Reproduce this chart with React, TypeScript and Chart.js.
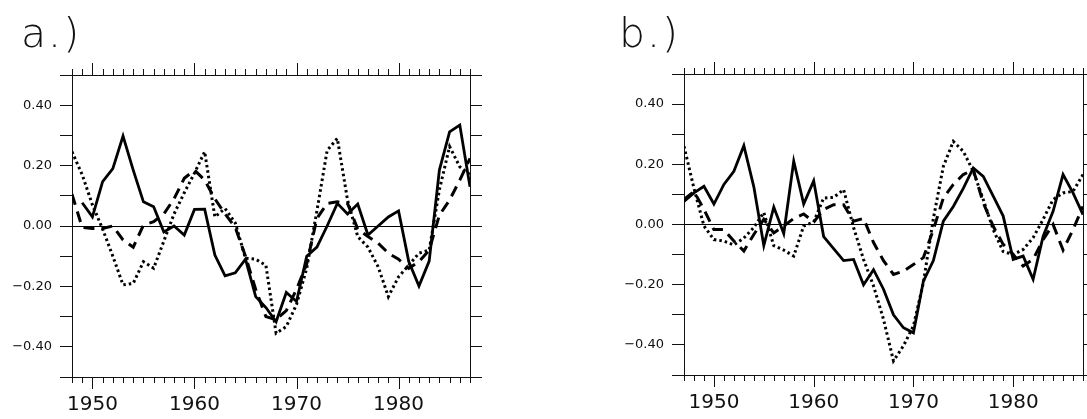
import React, { useEffect, useRef } from 'react';
import { Chart, registerables } from 'chart.js';

Chart.register(...registerables);

// ---------- data ----------
const yearsA = [1948, 1949, 1950, 1951, 1952, 1953, 1954, 1955, 1956, 1957, 1958, 1959, 1960, 1961, 1962, 1963, 1964, 1965, 1966, 1967, 1968, 1969, 1970, 1971, 1972, 1973, 1974, 1975, 1976, 1977, 1978, 1979, 1980, 1981, 1982, 1983, 1984, 1985, 1986, 1987];
const solidA = [null, 0.077, 0.03, 0.147, 0.19, 0.298, 0.185, 0.08, 0.064, -0.02, 0.0, -0.03, 0.055, 0.056, -0.096, -0.165, -0.155, -0.11, -0.234, -0.27, -0.317, -0.22, -0.25, -0.1, -0.07, 0.0, 0.075, 0.04, 0.073, -0.03, 0.0, 0.03, 0.05, -0.118, -0.199, -0.116, 0.185, 0.312, 0.334, 0.13];
const dottedA = [0.246, 0.17, 0.07, -0.01, -0.1, -0.195, -0.19, -0.118, -0.14, -0.05, 0.04, 0.11, 0.175, 0.246, 0.03, 0.058, 0.01, -0.107, -0.11, -0.13, -0.355, -0.333, -0.26, -0.14, 0.05, 0.25, 0.29, 0.086, -0.035, -0.07, -0.135, -0.234, -0.168, -0.13, -0.09, -0.08, 0.12, 0.263, 0.196, 0.17];
const dashedA = [0.105, -0.005, -0.008, -0.008, 0.0, -0.046, -0.07, 0.003, 0.014, 0.04, 0.09, 0.158, 0.185, 0.152, 0.09, 0.04, -0.005, -0.1, -0.21, -0.3, -0.31, -0.28, -0.21, -0.125, 0.025, 0.075, 0.08, 0.075, -0.01, -0.035, -0.057, -0.09, -0.11, -0.14, -0.118, -0.08, 0.036, 0.086, 0.152, 0.224];

const yearsB = [1947, 1948, 1949, 1950, 1951, 1952, 1953, 1954, 1955, 1956, 1957, 1958, 1959, 1960, 1961, 1962, 1963, 1964, 1965, 1966, 1967, 1968, 1969, 1970, 1971, 1972, 1973, 1974, 1975, 1976, 1977, 1978, 1979, 1980, 1981, 1982, 1983, 1984, 1985, 1986, 1987];
const solidB = [0.077, 0.105, 0.127, 0.068, 0.133, 0.177, 0.262, 0.125, -0.07, 0.058, -0.03, 0.21, 0.068, 0.145, -0.04, -0.08, -0.12, -0.116, -0.2, -0.15, -0.215, -0.3, -0.343, -0.36, -0.188, -0.12, 0.011, 0.06, 0.12, 0.188, 0.16, 0.094, 0.028, -0.116, -0.105, -0.182, -0.04, 0.044, 0.166, 0.105, 0.033];
const dottedB = [0.26, 0.12, -0.005, -0.05, -0.055, -0.068, -0.045, -0.01, 0.04, -0.07, -0.085, -0.105, -0.005, 0.008, 0.088, 0.09, 0.116, -0.01, -0.116, -0.204, -0.315, -0.453, -0.403, -0.337, -0.193, 0.02, 0.193, 0.276, 0.243, 0.177, 0.083, -0.017, -0.09, -0.1, -0.083, -0.044, 0.017, 0.083, 0.105, 0.11, 0.166];
const dashedB = [0.083, 0.11, 0.05, -0.017, -0.017, -0.055, -0.088, -0.033, 0.017, -0.028, -0.005, 0.02, 0.035, 0.008, 0.05, 0.066, 0.066, 0.011, 0.02, -0.06, -0.12, -0.166, -0.155, -0.133, -0.11, -0.017, 0.088, 0.133, 0.166, 0.182, 0.072, -0.006, -0.066, -0.1, -0.138, -0.116, -0.05, 0.0, -0.085, -0.017, 0.06];

const decadeTicks = [1950, 1960, 1970, 1980];
const decadeLabels = ['1950', '1960', '1970', '1980'];
const yTickValues = [-0.4, -0.2, 0, 0.2, 0.4];
const yTickLabels = ['\u22120.40', '\u22120.20', '0.00', '0.20', '0.40'];
const panelTitles = ['a.)', 'b.)'];

// ---------- chart helpers ----------
const framePlugin = {
  id: 'frame',
  afterDraw(chart: any) {
    const { ctx, chartArea } = chart;
    const { left, right, top, bottom } = chartArea;
    const xs = chart.scales.x;
    ctx.save();
    ctx.strokeStyle = '#111';
    ctx.lineWidth = 1;
    ctx.beginPath();
    ctx.moveTo(left, Math.round(top) + 0.5);
    ctx.lineTo(right, Math.round(top) + 0.5);
    for (let yr = Math.ceil(xs.min); yr <= Math.floor(xs.max); yr++) {
      const px = Math.round(xs.getPixelForValue(yr)) + 0.5;
      const len = yr % 10 === 0 ? 12 : 6;
      ctx.moveTo(px, top);
      ctx.lineTo(px, top - len);
      ctx.moveTo(px, bottom);
      ctx.lineTo(px, bottom + len);
    }
    ctx.stroke();
    ctx.restore();
  },
};

type Geom = { padLeft: number; padTop: number; padRight: number; xHeight: number };

function makeConfig(years: number[], solid: (number | null)[], dotted: number[], dashed: number[], g: Geom): any {
  const pts = (arr: (number | null)[]) => years.map((yr, i) => ({ x: yr, y: arr[i] }));
  const lineBase = { borderColor: '#000', pointRadius: 0, tension: 0, fill: false, spanGaps: false };
  return {
    type: 'line',
    data: {
      datasets: [
        { ...lineBase, label: 'dotted', data: pts(dotted), borderWidth: 3, borderDash: [2.5, 3], borderCapStyle: 'butt' },
        { ...lineBase, label: 'dashed', data: pts(dashed), borderWidth: 3, borderDash: [11, 7], borderCapStyle: 'butt' },
        { ...lineBase, label: 'solid', data: pts(solid), borderWidth: 2.8 },
      ],
    },
    options: {
      animation: false,
      responsive: false,
      maintainAspectRatio: false,
      layout: { padding: { left: g.padLeft, top: g.padTop, right: g.padRight, bottom: 0 } },
      plugins: { legend: { display: false }, tooltip: { enabled: false }, title: { display: false } },
      scales: {
        x: {
          type: 'linear',
          position: 'bottom',
          min: years[0],
          max: years[years.length - 1],
          afterBuildTicks: (scale: any) => {
            scale.ticks = decadeTicks.map((v) => ({ value: v }));
          },
          afterFit: (scale: any) => {
            scale.height = g.xHeight;
          },
          ticks: {
            autoSkip: false,
            maxRotation: 0,
            padding: 16,
            color: '#111',
            font: { family: 'DejaVu Sans', size: 20 },
            callback: (v: number) => {
              const i = decadeTicks.indexOf(Math.round(v));
              return i >= 0 ? decadeLabels[i] : '';
            },
          },
          grid: { display: false, drawOnChartArea: false, drawTicks: false },
          border: { display: true, color: '#111', width: 1 },
        },
        y: {
          type: 'linear',
          position: 'left',
          min: -0.5,
          max: 0.5,
          afterFit: (scale: any) => {
            scale.width = 72;
          },
          ticks: {
            stepSize: 0.1,
            autoSkip: false,
            padding: 8,
            color: '#111',
            font: { family: 'DejaVu Sans', size: 13 },
            callback: (v: number) => {
              const i = yTickValues.findIndex((t) => Math.abs(t - v) < 1e-6);
              return i >= 0 ? yTickLabels[i] : '';
            },
          },
          grid: {
            drawOnChartArea: true,
            drawTicks: true,
            tickLength: 12,
            tickColor: '#111',
            lineWidth: 1,
            color: (c: any) => (c.tick && Math.abs(c.tick.value) < 1e-9 ? '#000' : 'rgba(0,0,0,0)'),
          },
          border: { display: true, color: '#111', width: 1 },
        },
        y2: {
          type: 'linear',
          position: 'right',
          min: -0.5,
          max: 0.5,
          afterFit: (scale: any) => {
            scale.width = 12;
          },
          ticks: { stepSize: 0.1, autoSkip: false, padding: 0, callback: () => '' },
          grid: { drawOnChartArea: false, drawTicks: true, tickLength: 12, tickColor: '#111', lineWidth: 1, color: '#111' },
          border: { display: true, color: '#111', width: 1 },
        },
      },
    },
    plugins: [framePlugin],
  };
}

function Panel({ left, width, years, solid, dotted, dashed, geom }: any) {
  const ref = useRef<HTMLCanvasElement | null>(null);
  useEffect(() => {
    if (!ref.current) return;
    const chart = new Chart(ref.current, makeConfig(years, solid, dotted, dashed, geom));
    return () => chart.destroy();
  }, []);
  return (
    <canvas
      ref={ref}
      width={width}
      height={419}
      style={{ position: 'absolute', left, top: 0, width, height: 419 }}
    />
  );
}

const titleStyle: React.CSSProperties = {
  position: 'absolute',
  top: 5,
  fontFamily: '"DejaVu Sans", sans-serif',
  fontWeight: 200,
  fontSize: 41,
  lineHeight: '56px',
  letterSpacing: 2,
  color: '#111',
  margin: 0,
};

export default function App() {
  return (
    <div
      style={{
        position: 'absolute',
        left: 0,
        top: 0,
        width: 1087,
        height: 419,
        overflow: 'hidden',
        background: '#fff',
      }}
    >
      <Panel
        left={0}
        width={543}
        years={yearsA}
        solid={solidA}
        dotted={dottedA}
        dashed={dashedA}
        geom={{ padLeft: 0, padTop: 75, padRight: 61, xHeight: 42 }}
      />
      <Panel
        left={543}
        width={560}
        years={yearsB}
        solid={solidB}
        dotted={dottedB}
        dashed={dashedB}
        geom={{ padLeft: 69, padTop: 74, padRight: 8, xHeight: 44 }}
      />
      <div style={{ ...titleStyle, left: 21 }}>{panelTitles[0]}</div>
      <div style={{ ...titleStyle, left: 619 }}>{panelTitles[1]}</div>
    </div>
  );
}
